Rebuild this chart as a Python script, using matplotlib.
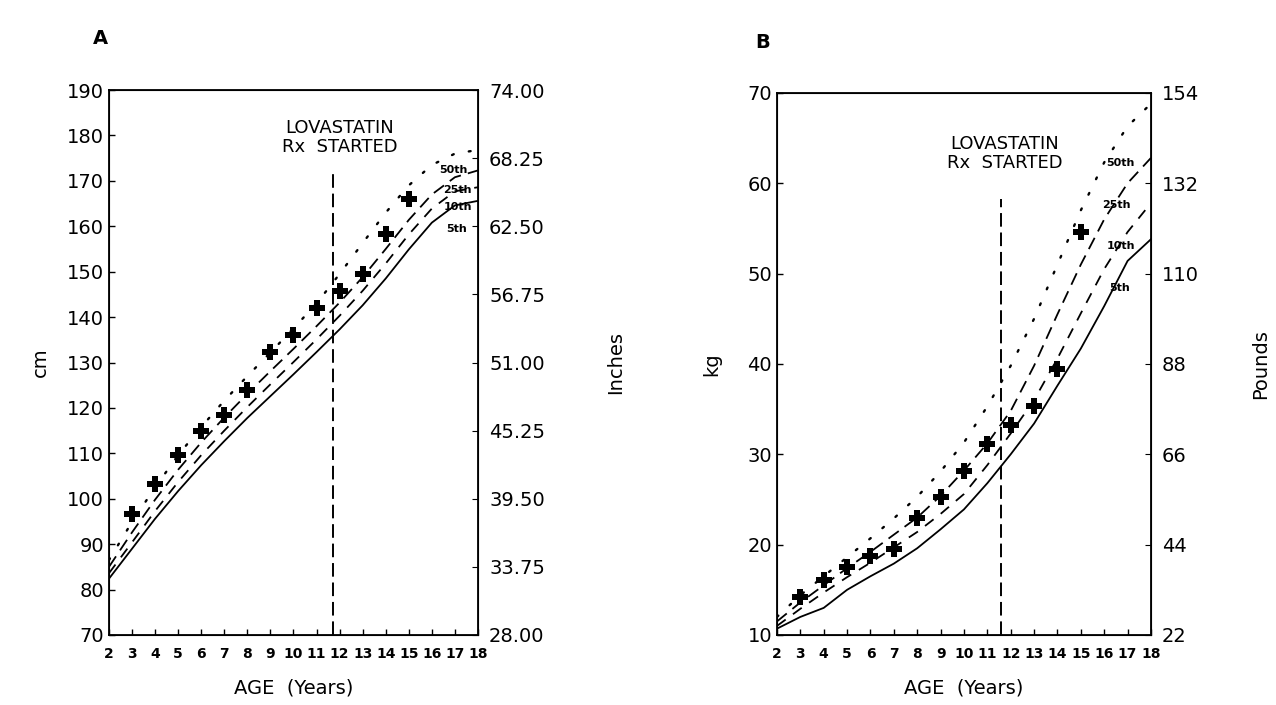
import matplotlib.pyplot as plt

plt.rcParams['font.family'] = ['DejaVu Sans']

ages = list(range(2, 19))
pt_ages = list(range(3, 16))

# height percentiles, cm (panel A)
ht_p50 = [86.5, 94.9, 102.5, 109.6, 115.8, 121.6, 127.0, 132.2, 137.5, 143.0, 149.5, 156.3, 163.0, 169.0, 173.5, 176.0, 176.8]
ht_p25 = [85.0, 92.6, 99.8, 106.4, 112.4, 117.9, 123.1, 128.1, 133.0, 138.0, 143.2, 148.8, 155.0, 161.4, 167.0, 170.8, 172.3]
ht_p10 = [83.6, 90.4, 97.3, 103.7, 109.6, 115.0, 120.2, 125.2, 130.1, 135.1, 140.3, 145.8, 151.8, 158.2, 163.9, 167.7, 168.6]
ht_p5 = [82.4, 89.0, 95.6, 101.7, 107.4, 112.7, 117.8, 122.6, 127.4, 132.3, 137.3, 142.6, 148.5, 154.9, 160.8, 164.6, 165.6]
pt_height = [96.6, 103.3, 109.7, 114.9, 118.4, 123.9, 132.3, 136.1, 142.1, 145.7, 149.5, 158.3, 166.0]

# weight percentiles, kg (panel B)
wt_p50 = [12.0, 14.4, 16.5, 18.6, 20.7, 22.9, 25.3, 28.1, 31.3, 35.3, 39.8, 45.0, 51.0, 57.0, 62.3, 66.3, 68.8]
wt_p25 = [11.5, 13.6, 15.5, 17.4, 19.2, 21.1, 23.0, 25.4, 28.2, 31.2, 34.8, 39.8, 45.5, 51.0, 56.0, 60.0, 62.8]
wt_p10 = [11.0, 12.9, 14.7, 16.4, 18.0, 19.7, 21.4, 23.4, 25.6, 28.8, 32.3, 36.0, 40.6, 45.6, 50.5, 54.6, 57.8]
wt_p5 = [10.7, 12.0, 13.0, 15.0, 16.5, 17.9, 19.6, 21.7, 23.9, 26.8, 30.0, 33.4, 37.6, 41.7, 46.4, 51.4, 53.8]
pt_weight = [14.2, 16.1, 17.5, 18.7, 19.5, 23.0, 25.3, 28.2, 31.1, 33.2, 35.3, 39.4, 54.6]

pct_names = ['50th', '25th', '10th', '5th']

# lovastatin start
rx_age_a, rx_top_a = 11.7, 171.7
rx_age_b, rx_top_b = 11.6, 58.2

cm_ticks = list(range(70, 191, 10))
inch_ticks = [28 + 5.75 * i for i in range(9)]
kg_ticks = list(range(10, 71, 10))
lb_ticks = [22 * i for i in range(1, 8)]


def style_axes(ax):
    ax.set_xlim(2, 18)
    ax.set_xticks(ages)
    ax.set_xticklabels([str(a) for a in ages], fontsize=10, fontweight='bold')
    ax.tick_params(direction='in', length=4, width=1, labelsize=14)
    ax.tick_params(axis='x', labelsize=10, pad=9)
    for s in ax.spines.values():
        s.set_linewidth(1.3)
    ax.set_xlabel('AGE  (Years)', fontsize=14, labelpad=12)


def draw_curves(ax, p50, p25, p10, p5, pts):
    ax.plot(ages, p50, color='black', lw=1.7, linestyle=(0, (0.8, 6.5)), dash_capstyle='round')
    ax.plot(ages, p25, color='black', lw=1.3, linestyle=(0, (7, 4)))
    ax.plot(ages, p10, color='black', lw=1.3, linestyle=(0, (6, 5)))
    ax.plot(ages, p5, color='black', lw=1.3)
    ax.plot(pt_ages, pts, linestyle='none', marker='P', markersize=11,
            color='black', markeredgewidth=0)


fig = plt.figure(figsize=(12.76, 7.05), dpi=100)

# ---- panel A: height ----
axA = fig.add_axes([0.0854, 0.0993, 0.2892, 0.773])
draw_curves(axA, ht_p50, ht_p25, ht_p10, ht_p5, pt_height)
axA.plot([rx_age_a, rx_age_a], [70, rx_top_a], color='black', lw=1.4, linestyle=(0, (7, 3)))
axA.set_ylim(70, 190)
axA.set_yticks(cm_ticks)
style_axes(axA)
axA.set_ylabel('cm', fontsize=14, labelpad=12)
axA.text(12.0, 179.5, 'LOVASTATIN\nRx  STARTED', ha='center', va='center',
         fontsize=13, multialignment='center', linespacing=1.05)
for name, (x, y) in zip(pct_names, [(16.3, 172.4), (16.5, 168.0), (16.5, 164.3), (16.6, 159.5)]):
    axA.text(x, y, name, fontsize=8, fontweight='bold', ha='left', va='center')

axA2 = axA.twinx()
axA2.set_ylim(28, 74)
axA2.set_yticks(inch_ticks)
axA2.set_yticklabels(['%.2f' % v for v in inch_ticks])
axA2.tick_params(direction='in', length=4, labelsize=14, pad=8)
axA2.set_ylabel('Inches', fontsize=14, labelpad=44)

# ---- panel B: weight ----
axB = fig.add_axes([0.6089, 0.0993, 0.2931, 0.769])
draw_curves(axB, wt_p50, wt_p25, wt_p10, wt_p5, pt_weight)
axB.plot([rx_age_b, rx_age_b], [10, rx_top_b], color='black', lw=1.4, linestyle=(0, (7, 3)))
axB.set_ylim(10, 70)
axB.set_yticks(kg_ticks)
style_axes(axB)
axB.set_ylabel('kg', fontsize=14, labelpad=19)
axB.text(11.75, 63.3, 'LOVASTATIN\nRx  STARTED', ha='center', va='center',
         fontsize=13, multialignment='center', linespacing=1.05)
for name, (x, y) in zip(pct_names, [(16.1, 62.2), (15.9, 57.6), (16.1, 53.0), (16.2, 48.4)]):
    axB.text(x, y, name, fontsize=8, fontweight='bold', ha='left', va='center')

axB2 = axB.twinx()
axB2.set_ylim(22, 154)
axB2.set_yticks(lb_ticks)
axB2.tick_params(direction='in', length=4, labelsize=14, pad=8)
axB2.set_ylabel('Pounds', fontsize=14, labelpad=37)

fig.text(0.079, 0.945, 'A', fontsize=14, fontweight='bold', ha='center', va='center')
fig.text(0.598, 0.94, 'B', fontsize=14, fontweight='bold', ha='center', va='center')

fig.savefig('out.png', dpi=100, facecolor='white')
